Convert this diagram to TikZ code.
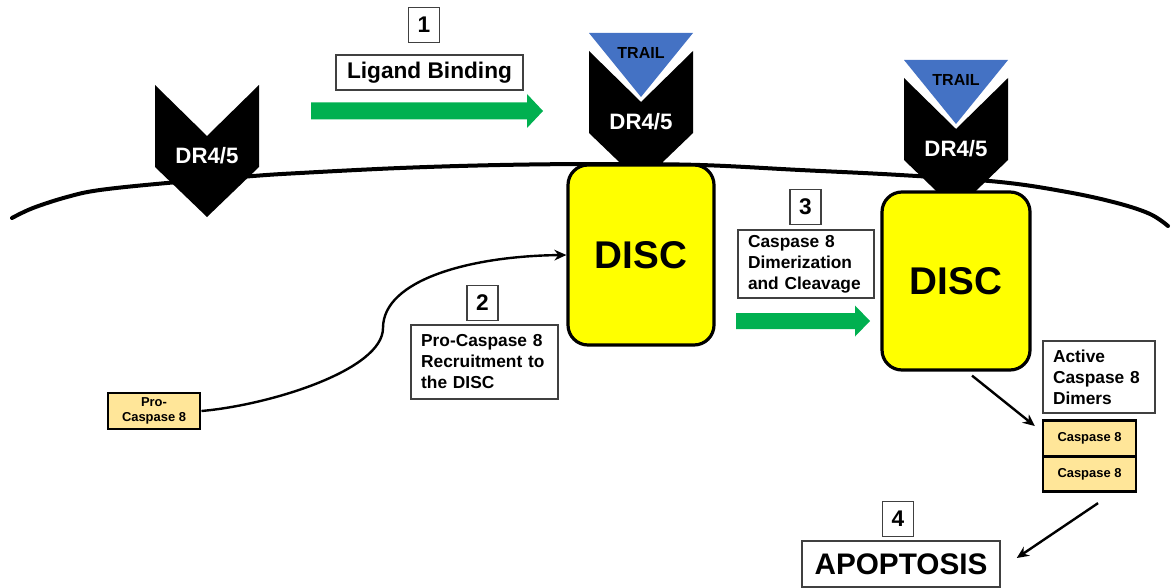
\documentclass[tikz,border=0pt]{standalone}
\usepackage{fontspec}
\setmainfont{Liberation Sans}
\usetikzlibrary{arrows.meta}
\definecolor{discyellow}{HTML}{FFFF00}
\definecolor{casporange}{HTML}{FFE699}
\definecolor{trailblue}{HTML}{4472C4}
\definecolor{stepgreen}{HTML}{00B050}
\definecolor{boxgray}{HTML}{404040}

% death receptor chevron: name, centre x, top y
\newcommand\drreceptor[3]{%
  \fill[black] (#2-52,#3) -- (#2,#3+51) -- (#2+52,#3) -- (#2+52,#3+82)
    -- (#2,#3+132) -- (#2-52,#3+82) -- cycle;
  \node[rlabel] (#1) at (#2,#3+71) {DR4/5};}
% TRAIL ligand triangle sitting in the receptor notch: name, centre x, receptor top y
\newcommand\trailligand[3]{%
  \fill[trailblue] (#2-52,#3-18) -- (#2+52,#3-18) -- (#2,#3+46) -- cycle;
  \node[tlabel] (#1) at (#2,#3+2) {TRAIL};}
% wide block arrow: x start, x tip, y centre, shaft half height, head half height, head length
\newcommand\blockarrow[6]{%
  \fill[stepgreen] (#1,#3-#4) -- (#2-#6,#3-#4) -- (#2-#6,#3-#5) -- (#2,#3)
    -- (#2-#6,#3+#5) -- (#2-#6,#3+#4) -- (#1,#3+#4) -- cycle;}

\begin{document}
\begin{tikzpicture}[x=0.75pt,y=-0.75pt,
  labelbox/.style={draw=boxgray, line width=1.1pt, fill=white, inner sep=0pt},
  numbox/.style={labelbox, minimum width=23.5pt, minimum height=26pt,
    font=\bfseries\fontsize{17}{20}\selectfont},
  stepbox/.style={labelbox, align=left, inner xsep=7.5pt, inner ysep=0pt,
    font=\bfseries\fontsize{13}{15.75}\selectfont},
  disc/.style={draw=black, line width=2.4pt, fill=discyellow, rounded corners=15pt,
    font=\bfseries\fontsize{29}{34}\selectfont},
  casp/.style={draw=black, line width=2.2pt, fill=casporange, align=center, inner sep=0pt,
    font=\bfseries\fontsize{9.7}{11.5}\selectfont},
  rlabel/.style={text=white, inner sep=0pt, font=\bfseries\fontsize{16.7}{20}\selectfont},
  tlabel/.style={text=black, inner sep=0pt, font=\bfseries\fontsize{12}{14}\selectfont},
  link/.style={line width=1.8pt, -{Stealth[length=9pt,width=8pt]}},
  membrane/.style={line width=3pt, line cap=round}
]
\useasboundingbox (0,0) rectangle (1176,588);

% cell membrane
\draw[membrane] plot[smooth, tension=0.6] coordinates {
  (12,218) (33,208) (67,197) (100,190) (167,183) (253,176) (300,173)
  (400,168) (500,165) (600,164) (700,165) (800,170) (900,175) (1000,182)
  (1067,192) (1117,203) (1150,214) (1168,226)};

% receptors
\drreceptor{drfree}{207}{85}
\drreceptor{drbound}{641}{51}
\trailligand{trailA}{641}{51}
\drreceptor{drdisc}{956}{78}
\trailligand{trailB}{956}{78}

% death-inducing signalling complexes
\node[disc, minimum width=109.5pt, minimum height=135pt] (disc1) at (641,255) {DISC};
\node[disc, minimum width=111pt, minimum height=133.5pt] (disc2) at (956,281) {DISC};

% step 1
\node[numbox] (num1) at (424,25) {1};
\node[labelbox, minimum width=140pt, minimum height=26pt,
  font=\bfseries\fontsize{17}{20}\selectfont] (lig) at (429.5,72.5) {Ligand Binding};
\blockarrow{311}{543}{111}{8.5}{17}{16}

% step 2
\node[casp, minimum width=69pt, minimum height=27pt] (procasp) at (154,411) {Pro-\\Caspase 8};
\node[numbox] (num2) at (482.5,303) {2};
\node[stepbox, text width=95pt, minimum height=55.5pt] (recruit) at (484.5,362)
  {Pro-Caspase 8\\Recruitment to\\the DISC};
\draw[link] (procasp.east) .. controls (270,405) and (383,370) .. (383,328)
  .. controls (383,280) and (470,256) .. (disc1.west);

% step 3
\node[numbox] (num3) at (805.5,207) {3};
\node[stepbox, text width=87pt, minimum height=51pt] (dimer) at (806,264)
  {Caspase 8\\Dimerization\\and Cleavage};
\blockarrow{736}{870}{321}{8}{15.5}{15}

% active caspase 8 dimers
\node[stepbox, text width=69pt, minimum height=54pt] (active) at (1099,377)
  {Active\\Caspase 8\\Dimers};
\node[casp, minimum width=69.75pt, minimum height=26.5pt] (casp1) at (1089.5,438.5) {Caspase 8};
\node[casp, minimum width=69.75pt, minimum height=26.5pt] (casp2) at (1089.5,474) {Caspase 8};
\draw[link] ([xshift=12pt,yshift=-3pt]disc2.south) -- ([xshift=-5pt,yshift=-5pt]casp1.north west);

% step 4
\node[numbox] (num4) at (898,519) {4};
\node[labelbox, minimum width=148.5pt, minimum height=34.5pt,
  font=\bfseries\fontsize{22.3}{26}\selectfont] (apop) at (901,564) {APOPTOSIS};
\draw[link] ([xshift=6.4pt,yshift=-7.5pt]casp2.south) -- ([xshift=12pt,yshift=4.5pt]apop.east);
\end{tikzpicture}
\end{document}
